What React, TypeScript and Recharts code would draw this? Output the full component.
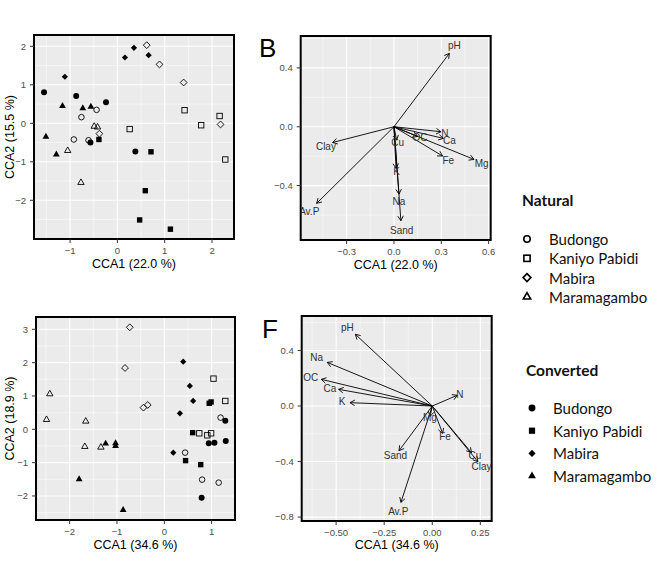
import React from 'react';
import { ScatterChart, Scatter, XAxis, YAxis, CartesianGrid, ReferenceArea } from 'recharts';

const FONT = '"Liberation Sans", Arial, Helvetica, sans-serif';
const LFONT = 'Lato, "Open Sans", sans-serif';

// ---------- Panel A (top-left): site scores, natural = open, converted = filled
const aNatBudongo = [[-0.44, 0.35], [-0.76, 0.16], [-0.92, -0.42], [-0.61, -0.44]];
const aNatKaniyo = [[0.26, -0.15], [1.42, 0.34], [2.16, 0.19], [1.77, -0.05], [2.28, -0.94]];
const aNatMabira = [[0.62, 2.03], [0.89, 1.53], [1.4, 1.06], [2.18, -0.03], [-0.38, -0.27]];
const aNatMaramagambo = [[-0.49, -0.08], [-0.42, -0.1], [-1.05, -0.71], [-0.77, -1.54]];
const aConBudongo = [[-1.55, 0.81], [-0.87, 0.71], [-0.24, 0.55], [-0.57, -0.5], [0.38, -0.73]];
const aConKaniyo = [[-0.39, -0.42], [0.71, -0.74], [0.59, -1.75], [0.47, -2.51], [1.12, -2.75]];
const aConMabira = [[-1.11, 1.21], [0.16, 1.71], [0.35, 1.96], [0.66, 1.77]];
const aConMaramagambo = [[-1.16, 0.45], [-0.73, 0.39], [-0.56, 0.43], [-1.51, -0.35], [-1.29, -0.81]];

// ---------- Panel C (bottom-left)
const cNatBudongo = [[1.19, 0.35], [0.44, -0.7], [0.8, -1.51], [1.15, -1.6]];
const cNatKaniyo = [[1.04, 1.52], [1.29, 0.85], [0.74, -0.12], [0.91, -0.18], [0.99, -0.12]];
const cNatMabira = [[-0.73, 3.06], [-0.83, 1.84], [-0.44, 0.65], [-0.35, 0.73]];
const cNatMaramagambo = [[-2.42, 1.06], [-2.49, 0.29], [-1.66, 0.24], [-1.68, -0.52], [-1.34, -0.54]];
const cConBudongo = [[1.29, 0.26], [1.3, -0.35], [0.94, -0.42], [1.06, -0.4], [0.79, -2.05]];
const cConKaniyo = [[0.95, 0.78], [0.99, 0.82], [0.6, -0.1], [0.45, -0.94], [0.77, -1.06]];
const cConMabira = [[0.4, 2.03], [0.54, 1.3], [0.61, 0.85], [0.33, 0.48], [0.19, -0.7]];
const cConMaramagambo = [[-1.24, -0.43], [-1.03, -0.42], [-1.03, -0.5], [-1.8, -1.5], [-0.87, -2.42]];

// ---------- Panel B (top-right): environmental vectors
const bVars = ['pH', 'Clay', 'Av.P', 'N', 'Ca', 'OC', 'Fe', 'Mg', 'Cu', 'K', 'Na', 'Sand'];
const bTipX = [0.351, -0.389, -0.49, 0.298, 0.313, 0.15, 0.308, 0.507, 0.017, 0.013, 0.032, 0.044];
const bTipY = [0.499, -0.107, -0.521, -0.034, -0.079, -0.066, -0.199, -0.222, -0.091, -0.283, -0.458, -0.639];
const bLabX = [0.383, -0.431, -0.537, 0.323, 0.351, 0.165, 0.344, 0.556, 0.023, 0.017, 0.032, 0.049];
const bLabY = [0.551, -0.131, -0.573, -0.043, -0.095, -0.075, -0.227, -0.249, -0.109, -0.306, -0.51, -0.703];

// ---------- Panel F (bottom-right)
const fVars = ['pH', 'Na', 'OC', 'Ca', 'K', 'N', 'Mg', 'Fe', 'Cu', 'Clay', 'Sand', 'Av.P'];
const fTipX = [-0.4, -0.546, -0.577, -0.487, -0.428, 0.13, -0.011, 0.054, 0.204, 0.237, -0.173, -0.163];
const fTipY = [0.516, 0.314, 0.192, 0.12, 0.024, 0.077, -0.075, -0.197, -0.336, -0.401, -0.322, -0.694];
const fLabX = [-0.442, -0.601, -0.632, -0.532, -0.469, 0.143, -0.012, 0.066, 0.222, 0.256, -0.191, -0.177];
const fLabY = [0.566, 0.346, 0.205, 0.127, 0.029, 0.085, -0.082, -0.221, -0.36, -0.437, -0.358, -0.761];

// ---------- Legend
const siteNames = ['Budongo', 'Kaniyo Pabidi', 'Mabira', 'Maramagambo'];
const siteKinds = ['circle', 'square', 'diamond', 'triangle'];

const toPts = (arr: number[][]) => arr.map(([x, y]) => ({ x, y }));

function Mark({ cx, cy, kind, filled, big }: any) {
  if (cx == null || cy == null || isNaN(cx) || isNaN(cy)) return <g />;
  const k = big ? 1.15 : 1;
  const fill = filled ? '#000' : 'none';
  const sw = filled ? 0 : big ? 1.6 : 0.9;
  if (kind === 'circle') {
    return <circle cx={cx} cy={cy} r={(filled ? 3 : 2.8) * k} fill={fill} stroke="#000" strokeWidth={sw} />;
  }
  if (kind === 'square') {
    const h = 2.7 * k;
    return <rect x={cx - h} y={cy - h} width={2 * h} height={2 * h} fill={fill} stroke="#000" strokeWidth={sw} />;
  }
  if (kind === 'diamond') {
    const h = (filled ? 3.1 : 3.4) * k;
    return (
      <polygon
        points={`${cx},${cy - h} ${cx + h},${cy} ${cx},${cy + h} ${cx - h},${cy}`}
        fill={fill}
        stroke="#000"
        strokeWidth={sw}
      />
    );
  }
  const s = (filled ? 6.8 : 6.4) * k;
  const hh = s * 0.866;
  return (
    <polygon
      points={`${cx},${cy - (2 * hh) / 3} ${cx + s / 2},${cy + hh / 3} ${cx - s / 2},${cy + hh / 3}`}
      fill={fill}
      stroke="#000"
      strokeWidth={sw}
      strokeLinejoin="miter"
    />
  );
}

const fmt = (d: number) => (v: number) => {
  const s = Math.abs(v).toFixed(d);
  return v < -1e-9 ? '\u2212' + s : s;
};

const arrowLine = (lp: any) => {
  const pts = lp && lp.points;
  if (!pts || pts.length < 2) return <g />;
  const a = pts[0];
  const b = pts[1];
  const ang = Math.atan2(b.y - a.y, b.x - a.x);
  const L = 5.5;
  const w = Math.PI / 6;
  const p1x = b.x - L * Math.cos(ang - w);
  const p1y = b.y - L * Math.sin(ang - w);
  const p2x = b.x - L * Math.cos(ang + w);
  const p2y = b.y - L * Math.sin(ang + w);
  return (
    <g>
      <line x1={a.x} y1={a.y} x2={b.x} y2={b.y} stroke="#000" strokeWidth={0.9} />
      <polyline points={`${p1x},${p1y} ${b.x},${b.y} ${p2x},${p2y}`} fill="none" stroke="#000" strokeWidth={0.9} />
    </g>
  );
};

const labelShape = (p: any) => {
  if (p.cx == null) return <g />;
  const name = (p.payload && p.payload.name) || p.name;
  return (
    <text x={p.cx} y={p.cy} textAnchor="middle" dominantBaseline="central" fontSize={10} fontFamily={FONT} fill="#333">
      {name}
    </text>
  );
};

type Cfg = {
  left: number;
  top: number;
  width: number;
  height: number;
  mTop: number;
  mRight: number;
  yW: number;
  xH: number;
  xDom: [number, number];
  yDom: [number, number];
  xT: number[];
  yT: number[];
  xM: number[];
  yM: number[];
  xDec: number;
  yDec: number;
  xLab: string;
  yLab?: string;
};

const tickStyle = { fill: '#4D4D4D', fontSize: 9.5, fontFamily: FONT };
const titleStyle = { fill: '#000', fontSize: 12.5, fontFamily: FONT };

function chart(c: Cfg, items: React.ReactNode[]) {
  return (
    <div style={{ position: 'absolute', left: c.left, top: c.top }}>
      <ScatterChart width={c.width} height={c.height} margin={{ top: c.mTop, right: c.mRight, bottom: 0, left: 0 }}>
        <CartesianGrid fill="#EBEBEB" fillOpacity={1} stroke="#FFFFFF" strokeWidth={0.5} verticalValues={c.xM} horizontalValues={c.yM} />
        <CartesianGrid stroke="#FFFFFF" strokeWidth={1.1} verticalValues={c.xT} horizontalValues={c.yT} />
        <XAxis
          type="number"
          dataKey="x"
          domain={c.xDom}
          ticks={c.xT}
          interval={0}
          allowDataOverflow
          axisLine={false}
          tickSize={4}
          tickMargin={4}
          tickLine={{ stroke: '#333' }}
          tick={tickStyle}
          tickFormatter={fmt(c.xDec)}
          height={c.xH}
          label={{ value: c.xLab, position: 'insideBottom', offset: 5, style: titleStyle }}
        />
        <YAxis
          type="number"
          dataKey="y"
          domain={c.yDom}
          ticks={c.yT}
          interval={0}
          allowDataOverflow
          axisLine={false}
          tickSize={4}
          tickMargin={4}
          tickLine={{ stroke: '#333' }}
          tick={tickStyle}
          tickFormatter={fmt(c.yDec)}
          width={c.yW}
          label={
            c.yLab
              ? { value: c.yLab, angle: -90, position: 'insideLeft', offset: 10, style: { ...titleStyle, textAnchor: 'middle' } }
              : undefined
          }
        />
        {items}
        <ReferenceArea
          x1={c.xDom[0]}
          x2={c.xDom[1]}
          y1={c.yDom[0]}
          y2={c.yDom[1]}
          ifOverflow="visible"
          fill="none"
          fillOpacity={0}
          stroke="#000"
          strokeWidth={2}
        />
      </ScatterChart>
    </div>
  );
}

function siteScatters(prefix: string, nat: number[][][], con: number[][][]) {
  const out: React.ReactNode[] = [];
  siteKinds.forEach((kind, i) => {
    out.push(
      <Scatter
        key={`${prefix}n${i}`}
        data={toPts(nat[i])}
        isAnimationActive={false}
        shape={(p: any) => <Mark cx={p.cx} cy={p.cy} kind={kind} filled={false} />}
      />
    );
  });
  siteKinds.forEach((kind, i) => {
    out.push(
      <Scatter
        key={`${prefix}c${i}`}
        data={toPts(con[i])}
        isAnimationActive={false}
        shape={(p: any) => <Mark cx={p.cx} cy={p.cy} kind={kind} filled />}
      />
    );
  });
  return out;
}

function vectorScatters(prefix: string, vars: string[], tx: number[], ty: number[], lx: number[], ly: number[]) {
  const out: React.ReactNode[] = vars.map((v, i) => (
    <Scatter
      key={`${prefix}a${i}`}
      data={[{ x: 0, y: 0 }, { x: tx[i], y: ty[i] }]}
      isAnimationActive={false}
      line={arrowLine}
      lineType="joint"
      shape={() => <g />}
    />
  ));
  out.push(
    <Scatter
      key={`${prefix}labels`}
      data={vars.map((v, i) => ({ x: lx[i], y: ly[i], name: v }))}
      isAnimationActive={false}
      shape={labelShape}
    />
  );
  return out;
}

const cfgA: Cfg = {
  left: 0, top: 0, width: 238, height: 273, mTop: 35, mRight: 4, yW: 34, xH: 34,
  xDom: [-1.762, 2.464], yDom: [-3.005, 2.294],
  xT: [-1, 0, 1, 2], yT: [-2, -1, 0, 1, 2],
  xM: [-1.5, -0.5, 0.5, 1.5], yM: [-2.5, -1.5, -0.5, 0.5, 1.5],
  xDec: 0, yDec: 0, xLab: 'CCA1 (22.0 %)', yLab: 'CCA2 (15.5 %)',
};
const cfgB: Cfg = {
  left: 250, top: 0, width: 244.7, height: 274, mTop: 36, mRight: 4, yW: 50.7, xH: 34,
  xDom: [-0.591, 0.613], yDom: [-0.77, 0.617],
  xT: [-0.3, 0, 0.3, 0.6], yT: [-0.4, 0, 0.4],
  xM: [-0.45, -0.15, 0.15, 0.45], yM: [-0.6, -0.2, 0.2, 0.6],
  xDec: 1, yDec: 1, xLab: 'CCA1 (22.0 %)',
};
const cfgC: Cfg = {
  left: 0, top: 290, width: 239, height: 264, mTop: 27, mRight: 4, yW: 36, xH: 34,
  xDom: [-2.712, 1.495], yDom: [-2.721, 3.369],
  xT: [-2, -1, 0, 1], yT: [-2, -1, 0, 1, 2, 3],
  xM: [-2.5, -1.5, -0.5, 0.5], yM: [-2.5, -1.5, -0.5, 0.5, 1.5, 2.5],
  xDec: 0, yDec: 0, xLab: 'CCA1 (34.6 %)', yLab: 'CCA2 (18.9 %)',
};
const cfgF: Cfg = {
  left: 250, top: 290, width: 245.7, height: 264, mTop: 26, mRight: 4, yW: 51.7, xH: 33,
  xDom: [-0.679, 0.309], yDom: [-0.828, 0.648],
  xT: [-0.5, -0.25, 0, 0.25], yT: [-0.8, -0.4, 0, 0.4],
  xM: [-0.625, -0.375, -0.125, 0.125], yM: [-0.6, -0.2, 0.2, 0.6],
  xDec: 2, yDec: 1, xLab: 'CCA1 (34.6 %)',
};

function Legend({ x, y, title, filled, symX, textX, step, gap }: any) {
  return (
    <g>
      <text x={x} y={y} fontFamily={LFONT} fontWeight={700} fontSize={15.5} fill="#111">
        {title}
      </text>
      {siteNames.map((n, i) => {
        const cy = y + gap + i * step;
        return (
          <g key={n}>
            <Mark cx={symX} cy={cy} kind={siteKinds[i]} filled={filled} big />
            <text x={textX} y={cy} dominantBaseline="central" fontFamily={LFONT} fontSize={15} fill="#111">
              {n}
            </text>
          </g>
        );
      })}
    </g>
  );
}

export default function App() {
  return (
    <div style={{ position: 'absolute', left: 0, top: 0, width: 662, height: 586, background: '#fff', overflow: 'hidden' }}>
      {chart(cfgA, siteScatters('A', [aNatBudongo, aNatKaniyo, aNatMabira, aNatMaramagambo], [aConBudongo, aConKaniyo, aConMabira, aConMaramagambo]))}
      {chart(cfgB, vectorScatters('B', bVars, bTipX, bTipY, bLabX, bLabY))}
      {chart(cfgC, siteScatters('C', [cNatBudongo, cNatKaniyo, cNatMabira, cNatMaramagambo], [cConBudongo, cConKaniyo, cConMabira, cConMaramagambo]))}
      {chart(cfgF, vectorScatters('F', fVars, fTipX, fTipY, fLabX, fLabY))}
      <svg width={662} height={586} style={{ position: 'absolute', left: 0, top: 0, pointerEvents: 'none' }}>
        <text x={259} y={57} fontFamily={FONT} fontSize={26} fill="#000">B</text>
        <text x={262} y={338} fontFamily={FONT} fontSize={26} fill="#000">F</text>
        <Legend x={522} y={206} title="Natural" filled={false} symX={527} textX={549} step={19.3} gap={33} />
        <Legend x={526} y={376} title="Converted" filled symX={532} textX={553} step={22.7} gap={32} />
      </svg>
    </div>
  );
}
